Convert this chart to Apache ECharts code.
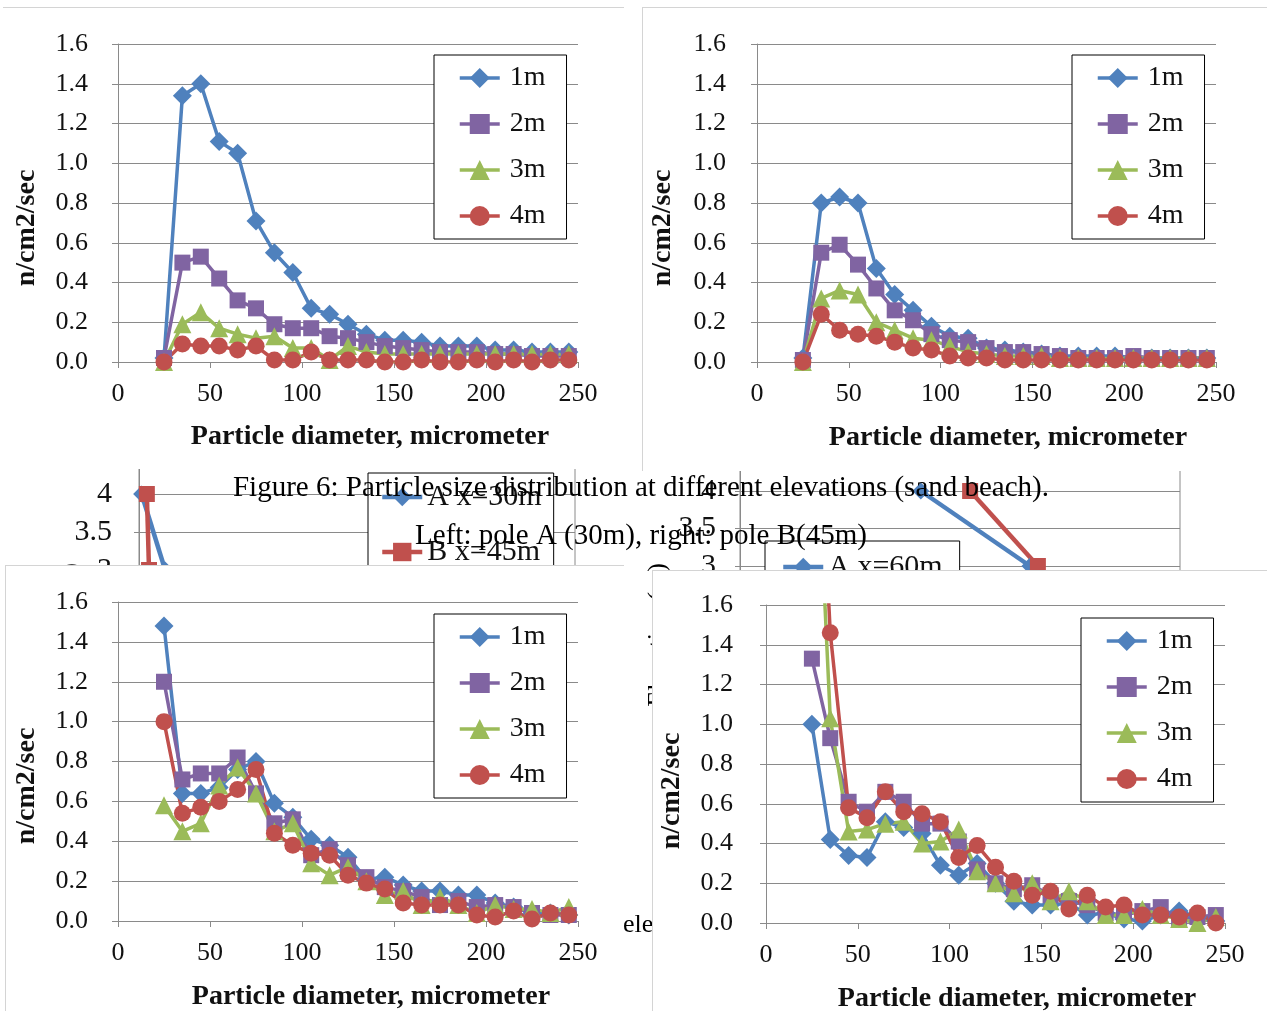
<!DOCTYPE html>
<html>
<head>
<meta charset="utf-8">
<script src="https://cdn.jsdelivr.net/npm/echarts@6/dist/echarts.min.js"></script>
<style>
  html, body { margin:0; padding:0; background:#fff; width:1267px; height:1011px; overflow:hidden; }
  #bg { position:absolute; left:0; top:0; width:1267px; height:1011px; z-index:1; }
  .panel { position:absolute; background:#fff; z-index:2; }
  .panel .c { position:absolute; left:0; top:0; width:100%; height:100%; }
</style>
</head>
<body>
<div id="bg"></div>
<div class="panel" id="pTL" style="left:3px;top:7px;width:621px;height:461px;border-top:1px solid #d4d4d4;"><div class="c" id="cTL"></div></div>
<div class="panel" id="pTR" style="left:642px;top:7px;width:625px;height:463px;border-top:1px solid #d4d4d4;border-left:1px solid #d4d4d4;"><div class="c" id="cTR"></div></div>
<div class="panel" id="pBL" style="left:5px;top:565px;width:618px;height:446px;border-top:1px solid #d4d4d4;border-left:1px solid #d4d4d4;"><div class="c" id="cBL"></div></div>
<div class="panel" id="pBR" style="left:652px;top:570px;width:615px;height:441px;border-top:1px solid #d4d4d4;border-left:1px solid #d4d4d4;"><div class="c" id="cBR"></div></div>
<script>
// ---------------- data ----------------
const diameters = [25,35,45,55,65,75,85,95,105,115,125,135,145,155,165,175,185,195,205,215,225,235,245];
const seriesNames = ['1m','2m','3m','4m'];
const xTicks = [0,50,100,150,200,250];
const yTicks = [0.0,0.2,0.4,0.6,0.8,1.0,1.2,1.4,1.6];

// top-left panel
const tl1m = [0.02,1.34,1.40,1.11,1.05,0.71,0.55,0.45,0.27,0.24,0.19,0.14,0.11,0.11,0.10,0.08,0.08,0.08,0.06,0.06,0.05,0.05,0.05];
const tl2m = [0.02,0.50,0.53,0.42,0.31,0.27,0.19,0.17,0.17,0.13,0.12,0.10,0.08,0.07,0.06,0.05,0.05,0.05,0.04,0.04,0.03,0.03,0.03];
const tl3m = [0.00,0.19,0.25,0.17,0.14,0.12,0.13,0.07,0.07,0.01,0.08,0.05,0.04,0.04,0.04,0.04,0.04,0.04,0.04,0.04,0.04,0.04,0.04];
const tl4m = [0.00,0.09,0.08,0.08,0.06,0.08,0.01,0.01,0.05,0.01,0.01,0.01,0.00,0.00,0.01,0.00,0.00,0.01,0.00,0.01,0.00,0.01,0.01];
// top-right panel
const tr1m = [0.02,0.80,0.83,0.80,0.47,0.34,0.26,0.18,0.13,0.12,0.07,0.06,0.05,0.04,0.03,0.03,0.03,0.03,0.02,0.02,0.02,0.02,0.02];
const tr2m = [0.01,0.55,0.59,0.49,0.37,0.26,0.21,0.14,0.11,0.10,0.07,0.05,0.05,0.04,0.03,0.02,0.02,0.02,0.03,0.02,0.02,0.02,0.02];
const tr3m = [0.00,0.32,0.36,0.34,0.20,0.16,0.12,0.11,0.08,0.05,0.04,0.03,0.03,0.03,0.02,0.02,0.02,0.02,0.02,0.02,0.02,0.02,0.02];
const tr4m = [0.00,0.24,0.16,0.14,0.13,0.10,0.07,0.06,0.03,0.02,0.02,0.01,0.01,0.01,0.01,0.01,0.01,0.01,0.01,0.01,0.01,0.01,0.01];
// bottom-left panel
const bl1m = [1.48,0.64,0.64,0.67,0.76,0.80,0.59,0.52,0.41,0.38,0.32,0.21,0.22,0.18,0.15,0.15,0.13,0.13,0.09,0.07,0.04,0.04,0.03];
const bl2m = [1.20,0.71,0.74,0.74,0.82,0.64,0.49,0.51,0.33,0.36,0.28,0.22,0.17,0.15,0.12,0.08,0.10,0.07,0.08,0.07,0.04,0.03,0.03];
const bl3m = [0.58,0.45,0.49,0.68,0.77,0.64,0.45,0.49,0.29,0.23,0.27,0.20,0.13,0.15,0.08,0.12,0.08,0.04,0.08,0.06,0.06,0.04,0.07];
const bl4m = [1.00,0.54,0.57,0.60,0.66,0.76,0.44,0.38,0.34,0.33,0.23,0.19,0.16,0.09,0.08,0.08,0.08,0.03,0.02,0.05,0.01,0.04,0.03];
// bottom-right panel
const br1m = [1.00,0.42,0.34,0.33,0.51,0.48,0.45,0.29,0.24,0.30,0.20,0.11,0.09,0.09,0.10,0.04,0.05,0.02,0.01,0.04,0.06,0.03,0.01];
const br2m = [1.33,0.93,0.61,0.56,0.66,0.61,0.50,0.50,0.41,0.27,0.20,0.17,0.19,0.14,0.11,0.09,0.05,0.04,0.06,0.08,0.02,0.03,0.04];
const br3m = [3.00,1.03,0.46,0.47,0.50,0.51,0.40,0.41,0.47,0.26,0.20,0.15,0.20,0.11,0.16,0.11,0.04,0.04,0.07,0.04,0.02,0.00,0.03];
const br4m = [3.30,1.46,0.58,0.53,0.66,0.56,0.55,0.51,0.33,0.39,0.28,0.21,0.14,0.16,0.07,0.14,0.08,0.09,0.04,0.04,0.03,0.05,0.00];

// background fragments (partly hidden charts)
const fragTicks = [2.0,2.5,3.0,3.5,4.0,4.5];
const fragLeftNames = ['A x=30m','B x=45m'];
const fragLeftA = [[0.6,4.0],[6.0,3.0]];
const fragLeftB = [[1.8,4.0],[2.3,3.0]];
const fragRightNames = ['A x=60m','B'];
const fragRightA = [[41.1,4.0],[65.9,3.0]];
const fragRightB = [[52.3,4.0],[67.7,3.0]];

const captionLine1 = 'Figure 6: Particle size distribution at different elevations (sand beach).';
const captionLine2 = 'Left: pole A (30m), right: pole B(45m)';
const xTitle = 'Particle diameter, micrometer';
const yTitle = 'n/cm2/sec';

// ---------------- style ----------------
const FONT = '"Liberation Serif", "Times New Roman", serif';
const COLORS = ['#4F81BD','#8064A2','#9BBB59','#C0504D'];
const SYMBOLS = ['diamond','rect','triangle','circle'];
const SIZES = [19,16,18,17];
const AXIS_GRAY = '#8a8a8a';

function pairs(xs, ys){ return xs.map((x,i)=>[x, ys[i]]); }

function panelOption(p, vals){
  const ox = p.left, oy = p.top;
  const g = p.grid;
  return {
    animation:false,
    textStyle:{fontFamily:FONT},
    grid:{left:g.x0-ox, top:g.y0-oy, width:g.x1-g.x0, height:g.y1-g.y0},
    xAxis:{
      type:'value', min:xTicks[0], max:xTicks[xTicks.length-1], interval:xTicks[1]-xTicks[0],
      axisLine:{show:true, lineStyle:{color:AXIS_GRAY, width:1}},
      axisTick:{show:true, length:6, lineStyle:{color:AXIS_GRAY}},
      axisLabel:{fontSize:26, color:'#111', fontFamily:FONT, margin:19},
      splitLine:{show:false}
    },
    yAxis:{
      type:'value', min:yTicks[0], max:yTicks[yTicks.length-1], interval:yTicks[1]-yTicks[0],
      axisLine:{show:true, lineStyle:{color:AXIS_GRAY, width:1}},
      axisTick:{show:true, length:6, lineStyle:{color:AXIS_GRAY}},
      axisLabel:{fontSize:26, color:'#111', fontFamily:FONT, margin:p.ym, formatter:v=>v.toFixed(1)},
      splitLine:{show:true, lineStyle:{color:AXIS_GRAY, width:1}}
    },
    legend:{
      show:true, orient:'vertical', left:p.leg.x-ox, top:p.leg.y-oy,
      data:seriesNames,
      itemWidth:40, itemHeight:25, itemGap:18,
      padding:[9,21,9,24],
      backgroundColor:'#fff', borderColor:'#000', borderWidth:1,
      lineStyle:{width:3.5},
      textStyle:{fontSize:28, fontFamily:FONT, color:'#111', lineHeight:28, padding:[0,0,0,5]}
    },
    graphic:[
      {type:'text', x:p.xt[0]-ox, y:p.xt[1]-oy, z:10,
        style:{text:xTitle, font:'bold 28px '+FONT, fill:'#111', align:'center', verticalAlign:'middle'}},
      {type:'text', x:p.yt[0]-ox, y:p.yt[1]-oy, rotation:Math.PI/2, z:10,
        style:{text:yTitle, font:'bold 28px '+FONT, fill:'#111', align:'center', verticalAlign:'middle'}}
    ],
    series: vals.map((v,i)=>({
      name:seriesNames[i], type:'line', data:pairs(diameters, v),
      symbol:SYMBOLS[i], symbolSize:SIZES[i], showAllSymbol:true, clip:true,
      lineStyle:{width:3.5, color:COLORS[i]},
      itemStyle:{color:COLORS[i], borderWidth:0},
      emphasis:{disabled:true}
    }))
  };
}

const panels = [
  {id:'cTL', left:3, top:7, grid:{x0:118,x1:578,y0:43,y1:361}, ym:30, leg:{x:434,y:54}, xt:[370,436], yt:[27,227], vals:[tl1m,tl2m,tl3m,tl4m]},
  {id:'cTR', left:643, top:7, grid:{x0:757,x1:1216,y0:43,y1:361}, ym:31, leg:{x:1072,y:54}, xt:[1008,437], yt:[663,227], vals:[tr1m,tr2m,tr3m,tr4m]},
  {id:'cBL', left:6, top:565, grid:{x0:118,x1:578,y0:601,y1:920}, ym:30, leg:{x:434,y:613}, xt:[371,996], yt:[27,785], vals:[bl1m,bl2m,bl3m,bl4m]},
  {id:'cBR', left:653, top:570, grid:{x0:766,x1:1225,y0:604,y1:922}, ym:33, leg:{x:1081,y:617}, xt:[1017,998], yt:[672,790], vals:[br1m,br2m,br3m,br4m]}
];

panels.forEach(p=>{
  const chart = echarts.init(document.getElementById(p.id), null, {renderer:'canvas'});
  chart.setOption(panelOption(p, p.vals));
});

// ---------------- background fragments ----------------
function fragAxis(gi, margin){
  return {
    gridIndex:gi, type:'value', min:fragTicks[0], max:fragTicks[fragTicks.length-1], interval:fragTicks[1]-fragTicks[0],
    axisLine:{show:true, lineStyle:{color:AXIS_GRAY}},
    axisTick:{show:true, length:5, lineStyle:{color:AXIS_GRAY}},
    axisLabel:{fontSize:30, fontFamily:FONT, color:'#111', margin:margin},
    splitLine:{show:true, lineStyle:{color:AXIS_GRAY}}
  };
}
function fragX(gi){
  return {gridIndex:gi, type:'value', min:0, max:100, axisLine:{show:false}, axisTick:{show:false}, axisLabel:{show:false}, splitLine:{show:false}};
}
function fragSeries(name, data, gi, ci){
  return {name:name, type:'line', xAxisIndex:gi, yAxisIndex:gi, data:data,
    symbol:ci===0?'diamond':'rect', symbolSize:ci===0?17:16,
    lineStyle:{width:4.5, color:COLORS[ci===0?0:3]}, itemStyle:{color:COLORS[ci===0?0:3]}, emphasis:{disabled:true}};
}
const bg = echarts.init(document.getElementById('bg'));
bg.setOption({
  animation:false,
  textStyle:{fontFamily:FONT},
  grid:[
    {left:139, top:456, width:436, height:190, show:true, borderColor:AXIS_GRAY, borderWidth:1},
    {left:740, top:453.5, width:440, height:187.5, show:true, borderColor:AXIS_GRAY, borderWidth:1}
  ],
  xAxis:[fragX(0), fragX(1)],
  yAxis:[fragAxis(0,27), fragAxis(1,24)],
  legend:[
    {orient:'vertical', left:368, top:473, data:fragLeftNames, itemWidth:40, itemHeight:23, itemGap:25,
      padding:[9,12,9,12], backgroundColor:'#fff', borderColor:'#000', borderWidth:1, lineStyle:{width:4.5},
      textStyle:{fontSize:30, fontFamily:FONT, color:'#111', lineHeight:30}},
    {orient:'vertical', left:765, top:541, data:[fragRightNames[0]], itemWidth:40, itemHeight:23, itemGap:25,
      padding:[11,17,30,16], backgroundColor:'#fff', borderColor:'#000', borderWidth:1, lineStyle:{width:4.5},
      textStyle:{fontSize:30, fontFamily:FONT, color:'#111', lineHeight:30}}
  ],
  graphic:[
    {type:'text', x:641, y:488, z:100, style:{text:captionLine1, font:'29px '+FONT, fill:'#000', align:'center', verticalAlign:'middle'}},
    {type:'text', x:641, y:536, z:100, style:{text:captionLine2, font:'29px '+FONT, fill:'#000', align:'center', verticalAlign:'middle'}},
    {type:'text', x:623, y:925, z:100, style:{text:'elevation', font:'26px '+FONT, fill:'#000', align:'left', verticalAlign:'middle'}},
    {type:'text', x:645, y:563, rotation:Math.PI/2, z:100, style:{text:'Elevation (m)', font:'26px '+FONT, fill:'#000', align:'right', verticalAlign:'top'}},
    {type:'text', x:58, y:563, rotation:Math.PI/2, z:100, style:{text:'Elevation (m)', font:'26px '+FONT, fill:'#000', align:'right', verticalAlign:'top'}}
  ],
  series:[
    fragSeries(fragLeftNames[0], fragLeftA, 0, 0),
    fragSeries(fragLeftNames[1], fragLeftB, 0, 1),
    fragSeries(fragRightNames[0], fragRightA, 1, 0),
    fragSeries(fragRightNames[1], fragRightB, 1, 1)
  ]
});
</script>
</body>
</html>
